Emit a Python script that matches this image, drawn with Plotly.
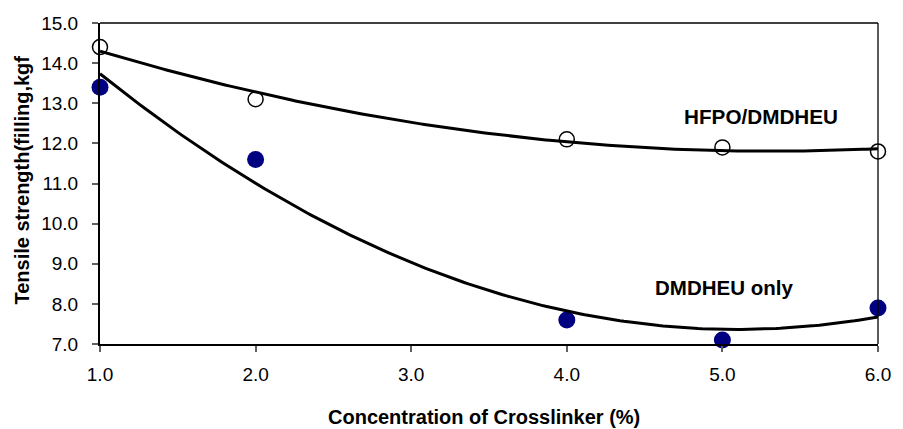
import numpy as np
import plotly.graph_objects as go

conc = [1.0, 2.0, 4.0, 5.0, 6.0]
hfpo = [14.4, 13.1, 12.1, 11.9, 11.8]
dmdheu = [13.4, 11.6, 7.6, 7.1, 7.9]
x_ticks = [1.0, 2.0, 3.0, 4.0, 5.0, 6.0]
y_ticks = [7.0, 8.0, 9.0, 10.0, 11.0, 12.0, 13.0, 14.0, 15.0]

# polynomial (order 2) trendlines, as in the original spreadsheet chart
xs = np.linspace(min(conc), max(conc), 200)
fit_h = np.polyval(np.polyfit(conc, hfpo, 2), xs)
fit_d = np.polyval(np.polyfit(conc, dmdheu, 2), xs)

fig = go.Figure()
fig.add_trace(go.Scatter(x=conc, y=hfpo, mode="markers", cliponaxis=False,
                         marker=dict(size=15, color="white", line=dict(color="black", width=1.5)),
                         showlegend=False))
fig.add_trace(go.Scatter(x=conc, y=dmdheu, mode="markers", cliponaxis=False,
                         marker=dict(size=17, color="#000080", line=dict(width=0)),
                         showlegend=False))
fig.add_trace(go.Scatter(x=xs, y=fit_h, mode="lines", line=dict(color="black", width=3), showlegend=False))
fig.add_trace(go.Scatter(x=xs, y=fit_d, mode="lines", line=dict(color="black", width=3), showlegend=False))

font = "Liberation Sans, Arial, sans-serif"
fig.add_annotation(x=5.25, y=12.66, text="<b>HFPO/DMDHEU</b>", showarrow=False,
                   font=dict(family=font, size=20.7, color="black"))
fig.add_annotation(x=5.01, y=8.42, text="<b>DMDHEU only</b>", showarrow=False,
                   font=dict(family=font, size=20.5, color="black"))
fig.add_annotation(xref="paper", yref="paper", x=-0.1008, y=0.511, textangle=-90,
                   text="<b>Tensile strength(filling,kgf</b>", showarrow=False,
                   xanchor="center", yanchor="middle",
                   font=dict(family=font, size=20, color="black"))
fig.add_annotation(xref="paper", yref="paper", x=0.494, y=-0.2274,
                   text="<b>Concentration of Crosslinker (%)</b>", showarrow=False,
                   xanchor="center", yanchor="middle",
                   font=dict(family=font, size=20, color="black"))

fig.add_shape(type="line", xref="paper", yref="paper", x0=0, x1=1, y0=1, y1=1,
              line=dict(color="black", width=1.3))
fig.add_shape(type="line", xref="paper", yref="paper", x0=1, x1=1, y0=0, y1=1,
              line=dict(color="black", width=1.3))

fig.update_layout(
    width=903, height=429,
    margin=dict(l=100, r=19, t=23, b=85),
    paper_bgcolor="white", plot_bgcolor="white",
    font=dict(family=font, color="black"),
    xaxis=dict(range=[1.0, 6.0], tickvals=x_ticks, ticktext=[f"{v:.1f}" for v in x_ticks],
               showgrid=False, zeroline=False, showline=True, linecolor="black", linewidth=2,
               ticks="outside", ticklen=6, tickwidth=1.5, tickcolor="#606060",
               ticklabelstandoff=6,
               tickfont=dict(size=19, family=font)),
    yaxis=dict(range=[7.0, 15.0], tickvals=y_ticks, ticktext=[f"{v:.1f}" for v in y_ticks],
               showgrid=False, zeroline=False, showline=True, linecolor="black", linewidth=2,
               ticks="outside", ticklen=6, tickwidth=1.5, tickcolor="#606060",
               ticklabelstandoff=10,
               tickfont=dict(size=19, family=font)),
)

fig.write_html("out.html")
